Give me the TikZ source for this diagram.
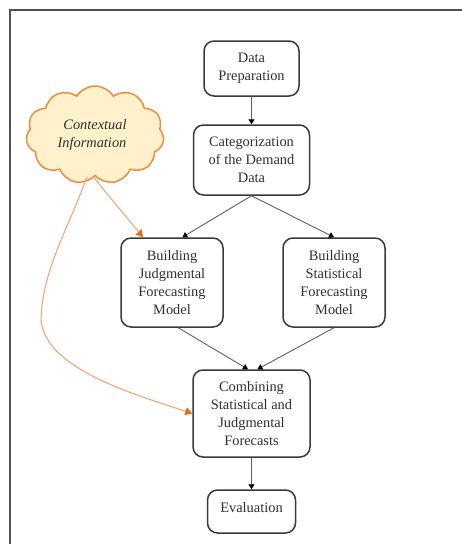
\documentclass[tikz,border=0pt]{standalone}
\usepackage{fontspec}
\setmainfont{Liberation Serif}
\usetikzlibrary{arrows.meta,shapes.symbols,calc}
\definecolor{boxline}{HTML}{3A3A3A}
\definecolor{textcol}{HTML}{303030}
\definecolor{linegray}{HTML}{606060}
\definecolor{frameline}{HTML}{505050}
\definecolor{cloudfill}{HTML}{FFF1CC}
\definecolor{cloudline}{HTML}{F08C3C}
\definecolor{orangeline}{HTML}{F5A06A}
\definecolor{orangetip}{HTML}{E0701E}
\begin{document}
\begin{tikzpicture}[x=1pt,y=-1pt,
  box/.style={draw=boxline, line width=1.5pt, rounded corners=10pt, fill=white,
    align=center, inner sep=1pt, text=textcol,
    font=\fontsize{14.4}{18}\selectfont},
  flow/.style={draw=linegray, line width=0.9pt,
    -{Triangle[width=6pt,length=5pt,color=black]}},
  ctx/.style={draw=orangeline, line width=1pt,
    -{Triangle[width=8pt,length=7pt,color=orangetip]}},
  cloudbox/.style={cloud, cloud puffs=11, cloud puff arc=115, aspect=1.4,
    draw=cloudline, fill=cloudfill, line width=1.5pt, align=center,
    inner sep=0pt, text=textcol,
    font=\fontsize{14.4}{18}\selectfont\itshape}]
\useasboundingbox (0,0) rectangle (462,544);
% frame
\draw[frameline, line width=2pt] (10,544) -- (10,10) -- (462,10);
% nodes
\node[box, minimum width=95pt, minimum height=55pt] (dp) at (251.5,68.5) {Data\\Preparation};
\node[box, minimum width=116pt, minimum height=70pt] (cat) at (251.5,160) {Categorization\\of the Demand\\Data};
\node[box, minimum width=102pt, minimum height=89pt] (judg) at (172,282.5) {Building\\Judgmental\\Forecasting\\Model};
\node[box, minimum width=102pt, minimum height=89pt] (stat) at (334,282.5) {Building\\Statistical\\Forecasting\\Model};
\node[box, minimum width=117pt, minimum height=87pt] (comb) at (251.5,413.5) {Combining\\Statistical and\\Judgmental\\Forecasts};
\node[box, minimum width=88pt, minimum height=43pt, inner sep=0pt, text height=10pt, text depth=8pt] (eval) at (251.5,511.5) {Evaluation};
\node[cloudbox, minimum width=138pt, minimum height=98pt] (ctx) at (95,135) {Contextual\\Information\hspace*{6pt}};
% connectors
\draw[flow] (dp.south) -- (cat.north);
\draw[flow] (cat.south) -- ($(judg.north west)!0.6!(judg.north east)$);
\draw[flow] (cat.south) -- (stat.north);
\draw[flow] ($(judg.south west)!0.56!(judg.south east)$) -- ($(comb.north west)!0.47!(comb.north east)$);
\draw[flow] ($(stat.south west)!0.5!(stat.south east)$) -- ($(comb.north west)!0.55!(comb.north east)$);
\draw[flow] (comb.south) -- (eval.north);
\coordinate (c1) at ($(ctx.south)+(-2,0)$);
\coordinate (c2) at ($(ctx.south)+(-8,0)$);
\coordinate (cm) at (41,320);
\draw[ctx] (c1) -- ($(judg.north west)!0.22!(judg.north east)$);
\draw[ctx] (c2) .. controls (70,225) and (42,270) .. (cm)
  .. controls (45,370) and (140,396) .. (comb.west);
\end{tikzpicture}
\end{document}
